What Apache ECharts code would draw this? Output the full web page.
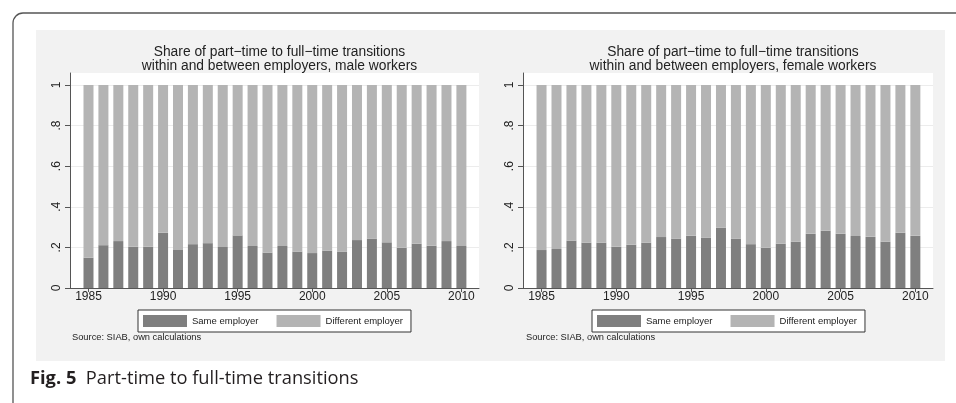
<!DOCTYPE html>
<html>
<head>
<meta charset="utf-8">
<script src="https://cdn.jsdelivr.net/npm/echarts@6/dist/echarts.min.js"></script>
<style>html,body{margin:0;padding:0;background:#fff;}#c{width:956px;height:403px;}</style>
</head>
<body>
<div id="c"></div>
<script>
var years = [1985,1986,1987,1988,1989,1990,1991,1992,1993,1994,1995,1996,1997,1998,1999,2000,2001,2002,2003,2004,2005,2006,2007,2008,2009,2010];
var maleSame = [0.149,0.211,0.231,0.203,0.203,0.272,0.190,0.216,0.221,0.202,0.259,0.207,0.174,0.207,0.179,0.172,0.184,0.179,0.236,0.243,0.225,0.198,0.218,0.208,0.231,0.207];
var maleDiff = [0.851,0.789,0.769,0.797,0.797,0.728,0.810,0.784,0.779,0.798,0.741,0.793,0.826,0.793,0.821,0.828,0.816,0.821,0.764,0.757,0.775,0.802,0.782,0.792,0.769,0.793];
var femaleSame = [0.187,0.192,0.233,0.223,0.223,0.203,0.213,0.223,0.251,0.243,0.257,0.248,0.297,0.243,0.216,0.198,0.218,0.228,0.267,0.282,0.267,0.256,0.252,0.228,0.272,0.257];
var femaleDiff = [0.813,0.808,0.767,0.777,0.777,0.797,0.787,0.777,0.749,0.757,0.743,0.752,0.703,0.757,0.784,0.802,0.782,0.772,0.733,0.718,0.733,0.744,0.748,0.772,0.728,0.743];
var xTickLabels = [1985,1990,1995,2000,2005,2010];
var yTickValues = [0,0.2,0.4,0.6,0.8,1];
var titles = ['Share of part\u2212time to full\u2212time transitions\nwithin and between employers, male workers',
              'Share of part\u2212time to full\u2212time transitions\nwithin and between employers, female workers'];
var seriesNames = ['Same employer','Different employer'];
var sourceNote = 'Source: SIAB, own calculations';
var caption = 'Fig. 5';
var captionText = 'Part-time to full-time transitions';

var FONT = '"Liberation Sans", Arial, Helvetica, sans-serif';
var C_SAME = '#7f7f7f', C_DIFF = '#b4b4b4';

// value first so that stacking happens on the value (y) dimension
function pairs(vals){ return years.map(function(y,i){ return [vals[i], y]; }); }

function xAxisDef(idx){
  return {
    type:'value', gridIndex: idx, min:1983.76, max:2011.18,
    axisLine:{show:true, lineStyle:{color:'#555', width:1}},
    axisTick:{show:true, length:4, customValues: xTickLabels, lineStyle:{color:'#555'}},
    axisLabel:{customValues: xTickLabels, margin:3, fontSize:12, color:'#222', fontFamily:FONT,
      formatter:function(v){return String(v);}},
    splitLine:{show:false}
  };
}
function yAxisDef(idx){
  return {
    type:'value', gridIndex: idx, min:0, max:1.059, interval:0.2,
    axisLine:{show:true, lineStyle:{color:'#555', width:1}},
    axisTick:{show:true, length:5, customValues: yTickValues, lineStyle:{color:'#555'}},
    axisLabel:{customValues: yTickValues, rotate:90, margin:7, fontSize:12, color:'#222', fontFamily:FONT,
      formatter:function(v){ if (v===0) return '0'; if (v===1) return '1'; return String(v).replace(/^0/,''); }},
    splitLine:{show:true, lineStyle:{color:'#ececec', width:1}}
  };
}
function barSeries(name, vals, idx, color){
  return {type:'bar', name:name, stack:'s'+idx, xAxisIndex:idx, yAxisIndex:idx, barWidth:10,
    encode:{x:1, y:0},
    data: pairs(vals), itemStyle:{color:color}, silent:true, animation:false};
}
function legendDef(left){
  return {data: seriesNames, left:left, top:310, orient:'horizontal', icon:'rect', itemWidth:44, itemHeight:12,
    itemGap:18, itemStyle:{borderWidth:0}, padding:[5,8,5,5], backgroundColor:'#fff', borderColor:'#333', borderWidth:1, borderRadius:0,
    textStyle:{fontSize:9.5, color:'#222', fontFamily:FONT}, selectedMode:false};
}

var chart = echarts.init(document.getElementById('c'), null, {renderer:'canvas'});
chart.setOption({
  animation:false,
  backgroundColor:'#fff',
  graphic:[
    {type:'rect', z:-100, shape:{x:13, y:13, width:1000, height:500, r:10}, style:{fill:'#fff', stroke:'#555', lineWidth:1.3}},
    {type:'rect', z:-90, shape:{x:36, y:30, width:909, height:331}, style:{fill:'#f2f2f2'}},
    {type:'text', z:10, left:72, top:333, style:{text:sourceNote, fontSize:9.3, fill:'#222', fontFamily:FONT}},
    {type:'text', z:10, left:526, top:333, style:{text:sourceNote, fontSize:9.3, fill:'#222', fontFamily:FONT}},
    {type:'text', z:10, left:30, top:370, style:{text:'{b|'+caption+'}  '+captionText, fontSize:18.3, fill:'#231f20',
      fontFamily:'"Open Sans", sans-serif', rich:{b:{fontWeight:'bold', fontSize:18.3, fontFamily:'"Open Sans", sans-serif', fill:'#231f20'}}}}
  ],
  title:[
    {text:titles[0], left:274.5, top:40, textAlign:'center', textStyle:{fontSize:13.8, fontWeight:'normal', color:'#222', fontFamily:FONT, lineHeight:14}},
    {text:titles[1], left:728, top:40, textAlign:'center', textStyle:{fontSize:13.8, fontWeight:'normal', color:'#222', fontFamily:FONT, lineHeight:14}}
  ],
  legend:[legendDef(138), legendDef(592)],
  grid:[
    {left:70, right:477, top:73, bottom:115, show:true, backgroundColor:'#fff', borderWidth:0},
    {left:523, right:23, top:73, bottom:115, show:true, backgroundColor:'#fff', borderWidth:0}
  ],
  xAxis:[xAxisDef(0), xAxisDef(1)],
  yAxis:[yAxisDef(0), yAxisDef(1)],
  series:[
    barSeries(seriesNames[0], maleSame, 0, C_SAME),
    barSeries(seriesNames[1], maleDiff, 0, C_DIFF),
    barSeries(seriesNames[0], femaleSame, 1, C_SAME),
    barSeries(seriesNames[1], femaleDiff, 1, C_DIFF)
  ]
});
</script>
</body>
</html>
